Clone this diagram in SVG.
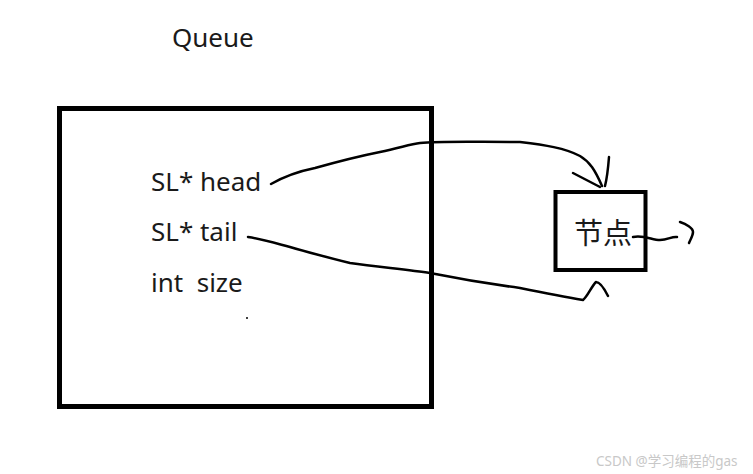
<svg xmlns="http://www.w3.org/2000/svg" width="753" height="474" viewBox="0 0 753 474">
<style>
.t{font-family:"Noto Sans","Open Sans","Noto Sans CJK SC",sans-serif;font-size:26px;fill:#1a1a1a;white-space:pre}
.box{fill:none;stroke:#000}
.c{fill:none;stroke:#000;stroke-width:2.5;stroke-linecap:round;stroke-linejoin:round}
</style>
<rect width="753" height="474" fill="#fff"/>
<text class="t" x="172" y="47">Queue</text>
<g id="queue">
<rect class="box" x="59.5" y="108.5" width="372" height="298" stroke-width="5"/>
<text class="t" x="151" y="191">SL* head</text>
<text class="t" x="151" y="241">SL* tail</text>
<text class="t" x="151" y="292" xml:space="preserve">int  size</text>
<circle cx="247" cy="318" r="1" fill="#000"/>
</g>
<g id="node">
<rect class="box" x="555.5" y="192" width="90" height="78" stroke-width="4"/>
<text class="t" x="574" y="244" style="font-family:'Noto Sans CJK SC',sans-serif;font-size:29px">节点</text>
</g>
<g id="connectors">
<path class="c" d="M271,184 C285,176 300,171 315,168 C340,161 360,156 380,152 C400,148 410,144 420,143 C440,141 470,142 520,142 C545,145 565,148 580,156 C590,162 595,170 602,186"/>
<path class="c" d="M573,173 L600,187 M609,157 C608,170 607,178 605,186"/>
<path class="c" d="M248,237 C262,239 275,243 290,247 C310,253 330,258 350,263 C380,267 410,270 430,273 C460,279 490,284 520,288 C540,292 560,296 583,300 C588,296 591,287 596,282 M596,282 C600,282 604,288 608,296"/>
<path class="c" d="M633,237 C645,235 652,240 660,240 C668,240 672,236 677,237 M680,222 C686,224 693,228 693,232 C693,236 690,240 689,243"/>
</g>
<text x="596" y="466" style="font-family:'Noto Sans','Noto Sans CJK SC',sans-serif;font-size:13.5px;fill:#c8c8c8">CSDN @学习编程的gas</text>
</svg>
